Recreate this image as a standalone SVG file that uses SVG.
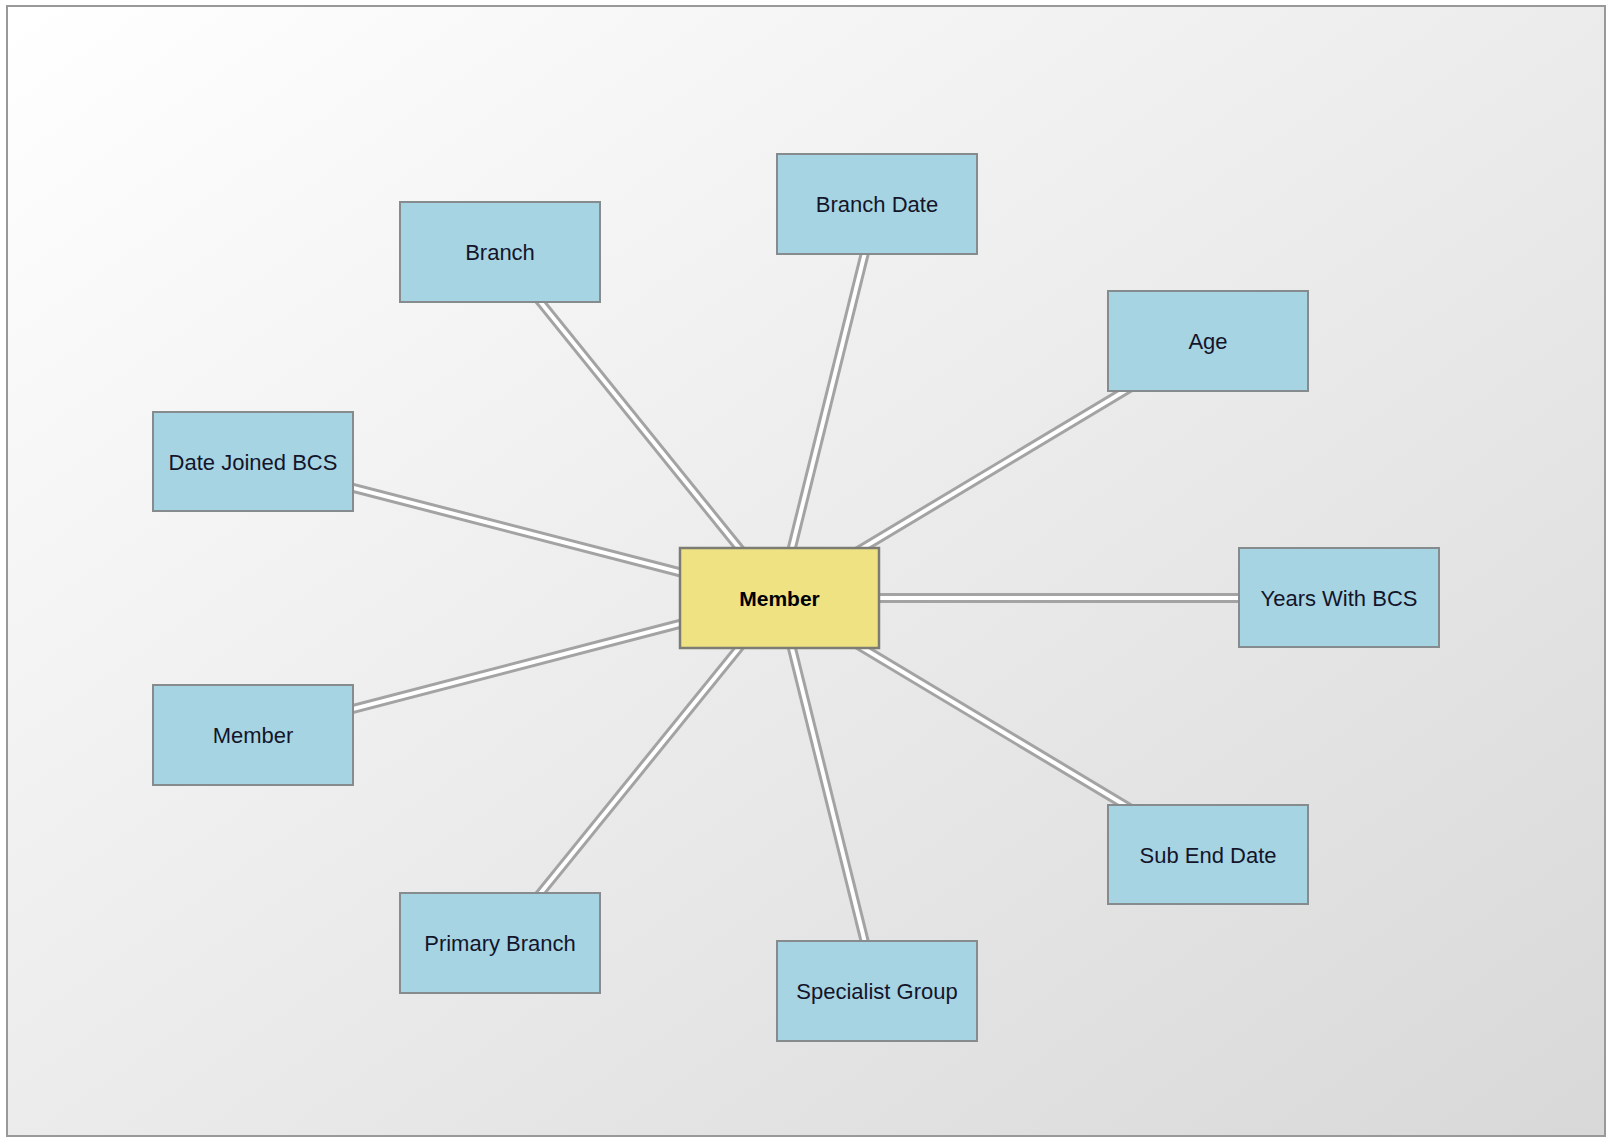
<svg xmlns="http://www.w3.org/2000/svg" width="1606" height="1137" viewBox="0 0 1606 1137">
<defs>
<linearGradient id="bg" x1="0" y1="0" x2="1" y2="1">
<stop offset="0" stop-color="#ffffff"/>
<stop offset="1" stop-color="#d8d8d8"/>
</linearGradient>
<style>
.leaf{fill:#a6d4e3;stroke:#868b8e;stroke-width:2}
.hub{fill:#eee283;stroke:#7c7c74;stroke-width:2.5}
.lbl{font-family:"Liberation Sans",Arial,sans-serif;font-size:22px;fill:#14142a;text-anchor:middle;dominant-baseline:central}
.hubl{font-family:"Liberation Sans",Arial,sans-serif;font-size:21px;font-weight:bold;fill:#000;text-anchor:middle;dominant-baseline:central}
.co{stroke:#a3a3a3;stroke-width:10;fill:none}
.ci{stroke:#ffffff;stroke-width:4;fill:none}
</style>
</defs>
<rect x="7" y="6" width="1598" height="1130" fill="url(#bg)" stroke="#999" stroke-width="2"/>
<g id="connectors">
<g class="co">
<line x1="779.5" y1="598" x2="500" y2="252"/>
<line x1="779.5" y1="598" x2="877" y2="204"/>
<line x1="779.5" y1="598" x2="1208" y2="341"/>
<line x1="779.5" y1="598" x2="253" y2="462"/>
<line x1="779.5" y1="598" x2="1339" y2="598"/>
<line x1="779.5" y1="598" x2="253" y2="735"/>
<line x1="779.5" y1="598" x2="1208" y2="855"/>
<line x1="779.5" y1="598" x2="500" y2="943"/>
<line x1="779.5" y1="598" x2="877" y2="991"/>
</g>
<g class="ci">
<line x1="779.5" y1="598" x2="500" y2="252"/>
<line x1="779.5" y1="598" x2="877" y2="204"/>
<line x1="779.5" y1="598" x2="1208" y2="341"/>
<line x1="779.5" y1="598" x2="253" y2="462"/>
<line x1="779.5" y1="598" x2="1339" y2="598"/>
<line x1="779.5" y1="598" x2="253" y2="735"/>
<line x1="779.5" y1="598" x2="1208" y2="855"/>
<line x1="779.5" y1="598" x2="500" y2="943"/>
<line x1="779.5" y1="598" x2="877" y2="991"/>
</g>
</g>
<g id="node-branch"><rect class="leaf" x="400" y="202" width="200" height="100"/><text class="lbl" x="500" y="252">Branch</text></g>
<g id="node-branch-date"><rect class="leaf" x="777" y="154" width="200" height="100"/><text class="lbl" x="877" y="204">Branch Date</text></g>
<g id="node-age"><rect class="leaf" x="1108" y="291" width="200" height="100"/><text class="lbl" x="1208" y="341">Age</text></g>
<g id="node-date-joined"><rect class="leaf" x="153" y="412" width="200" height="99"/><text class="lbl" x="253" y="462">Date Joined BCS</text></g>
<g id="node-years"><rect class="leaf" x="1239" y="548" width="200" height="99"/><text class="lbl" x="1339" y="598">Years With BCS</text></g>
<g id="node-member-leaf"><rect class="leaf" x="153" y="685" width="200" height="100"/><text class="lbl" x="253" y="735">Member</text></g>
<g id="node-sub-end"><rect class="leaf" x="1108" y="805" width="200" height="99"/><text class="lbl" x="1208" y="855">Sub End Date</text></g>
<g id="node-primary"><rect class="leaf" x="400" y="893" width="200" height="100"/><text class="lbl" x="500" y="943">Primary Branch</text></g>
<g id="node-specialist"><rect class="leaf" x="777" y="941" width="200" height="100"/><text class="lbl" x="877" y="991">Specialist Group</text></g>
<g id="node-member"><rect class="hub" x="680" y="548" width="199" height="100"/><text class="hubl" x="779.5" y="598">Member</text></g>
</svg>
